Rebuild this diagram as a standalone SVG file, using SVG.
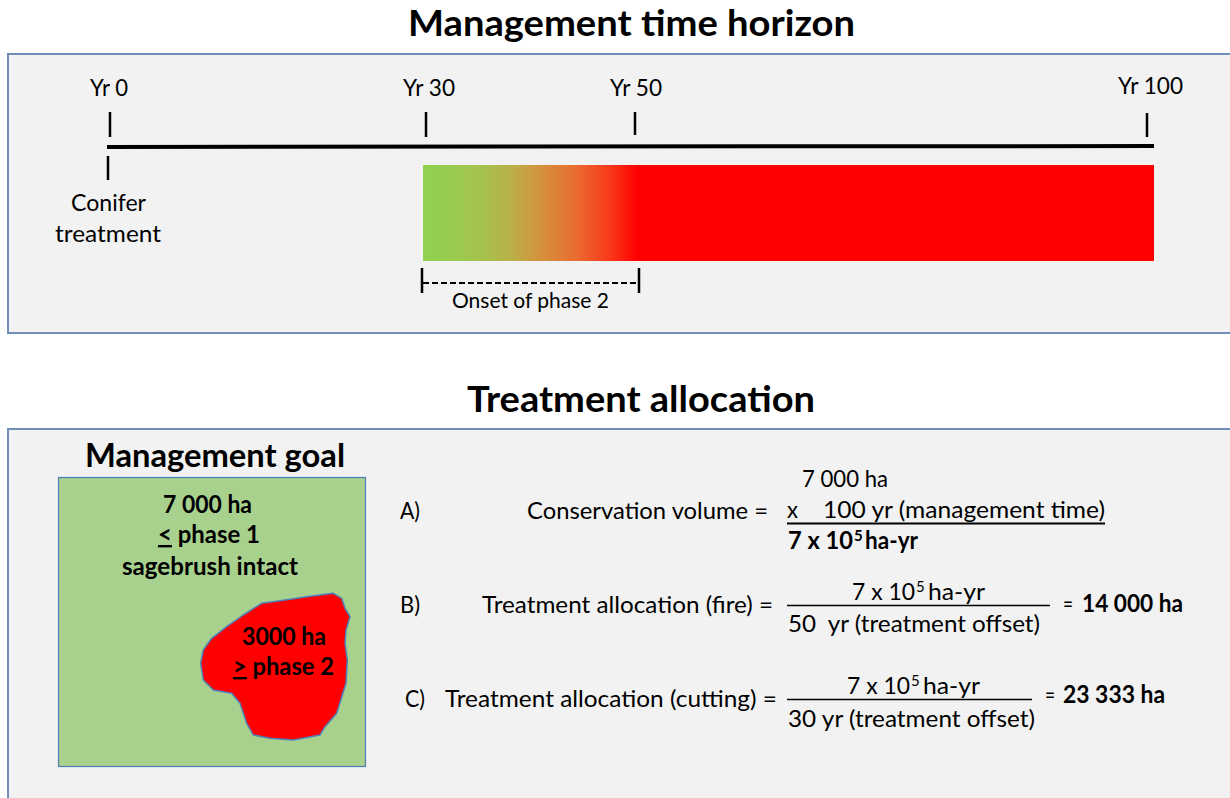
<svg xmlns="http://www.w3.org/2000/svg" width="1230" height="798" viewBox="0 0 1230 798">
<defs>
<style>
text{font-family:Lato,"Open Sans","Noto Sans",sans-serif;fill:#000}
.b{font-weight:bold}
.h1{font-size:37px;font-weight:bold}
.lab{font-size:23.5px}
.eq{font-size:24px}
.sm{font-size:21px}
.sup{font-size:15px}
.panel{fill:#f2f2f2;stroke:#6f8fb8;stroke-width:2}
.tick{stroke:#000;stroke-width:2.5;fill:none}
.fr{stroke:#000;stroke-width:1.6}
</style>
<linearGradient id="grad" gradientUnits="userSpaceOnUse" x1="423" y1="0" x2="1154" y2="0">
<stop offset="0.014" stop-color="#92d050"/>
<stop offset="0.082" stop-color="#a6c24e"/>
<stop offset="0.119" stop-color="#b9b049"/>
<stop offset="0.160" stop-color="#d4933e"/>
<stop offset="0.211" stop-color="#ea6a30"/>
<stop offset="0.260" stop-color="#fa3318"/>
<stop offset="0.293" stop-color="#ff0000"/>
<stop offset="1" stop-color="#ff0000"/>
</linearGradient>
</defs>
<rect width="1230" height="798" fill="#fff"/>

<g id="panel-top">
<text class="h1" x="408" y="36" textLength="447" lengthAdjust="spacingAndGlyphs">Management time horizon</text>
<rect class="panel" x="8" y="54" width="1230" height="279"/>
</g>

<g id="timeline">
<line x1="107" y1="147" x2="1154" y2="146" stroke="#000" stroke-width="4"/>
<line class="tick" x1="110" y1="112" x2="110" y2="137"/>
<line class="tick" x1="426" y1="112" x2="426" y2="137"/>
<line class="tick" x1="635" y1="112" x2="635" y2="135"/>
<line class="tick" x1="1147" y1="113" x2="1147" y2="137"/>
<line class="tick" x1="108" y1="156" x2="108" y2="180"/>
</g>

<g id="yr0"><text class="lab" x="90" y="96" textLength="38" lengthAdjust="spacingAndGlyphs">Yr 0</text></g>
<g id="yr30"><text class="lab" x="403" y="96" textLength="52" lengthAdjust="spacingAndGlyphs">Yr 30</text></g>
<g id="yr50"><text class="lab" x="610" y="96" textLength="52" lengthAdjust="spacingAndGlyphs">Yr 50</text></g>
<g id="yr100"><text class="lab" x="1118" y="94" textLength="65" lengthAdjust="spacingAndGlyphs">Yr 100</text></g>
<g id="conifer">
<text class="lab" x="71" y="211" textLength="75" lengthAdjust="spacingAndGlyphs">Conifer</text>
<text class="lab" x="55" y="242" textLength="106" lengthAdjust="spacingAndGlyphs">treatment</text>
</g>

<g id="phase-bar">
<rect x="423" y="165" width="731" height="96" fill="url(#grad)"/>
</g>

<g id="onset">
<line class="tick" x1="422" y1="268" x2="422" y2="293"/>
<line class="tick" x1="639" y1="268" x2="639" y2="293"/>
<line x1="423" y1="283" x2="639" y2="283" stroke="#000" stroke-width="2" stroke-dasharray="6 3"/>
<text class="sm" x="452" y="308" textLength="157" lengthAdjust="spacingAndGlyphs">Onset of phase 2</text>
</g>

<g id="panel-bottom">
<text class="h1" x="467" y="412" textLength="348" lengthAdjust="spacingAndGlyphs">Treatment allocation</text>
<rect class="panel" x="8" y="429" width="1230" height="380"/>
</g>

<g id="goal">
<text class="b" font-size="32" x="85" y="467" textLength="260" lengthAdjust="spacingAndGlyphs">Management goal</text>
<rect x="58.5" y="477.5" width="307" height="289" fill="#a9d18e" stroke="#4f7fb8" stroke-width="1.2"/>
<text class="b eq" x="163" y="513" textLength="89" lengthAdjust="spacingAndGlyphs">7 000 ha</text>
<text class="b eq" x="158" y="543" textLength="102" lengthAdjust="spacingAndGlyphs"><tspan text-decoration="underline">&lt;</tspan> phase 1</text>
<text class="b eq" x="122" y="575" textLength="176" lengthAdjust="spacingAndGlyphs">sagebrush intact</text>
</g>

<g id="phase2-area">
<path d="M333.3,593.3 L341.7,598.3 L345,608.3 L350,616.7 L346,630 L345,643 L347.3,660 L346,683 L336.7,713.3 L325,726.7 L320,735 L293.3,740 L270,738.3 L253.3,735 L246.7,723.3 L240,703.3 L231.7,693.3 L213.3,690 L203.3,680 L200.7,663.3 L203.3,650 L211.7,638.3 L226.7,626.7 L243.3,615 L261.7,603.3 L273.3,601.7 L306.7,596.7 Z" fill="#ff0000" stroke="#4f7fb8" stroke-width="1.5" stroke-linejoin="round"/>
<text class="b eq" x="242" y="645" textLength="84" lengthAdjust="spacingAndGlyphs">3000 ha</text>
<text class="b eq" x="233" y="675" textLength="101" lengthAdjust="spacingAndGlyphs"><tspan text-decoration="underline">&gt;</tspan> phase 2</text>
</g>

<g id="eq-a">
<text class="eq" x="400" y="519" textLength="20" lengthAdjust="spacingAndGlyphs">A)</text>
<text class="eq" x="527" y="519" textLength="241" lengthAdjust="spacingAndGlyphs">Conservation volume =</text>
<text class="eq" x="802" y="487" textLength="86" lengthAdjust="spacingAndGlyphs">7 000 ha</text>
<text class="eq" x="787" y="518" textLength="11" lengthAdjust="spacingAndGlyphs">x</text>
<text class="eq" x="823" y="518" textLength="282" lengthAdjust="spacingAndGlyphs">100 yr (management time)</text>
<line x1="787" y1="523.5" x2="1105" y2="523.5" stroke="#000" stroke-width="2"/>
<text class="eq b" x="788" y="549" textLength="65" lengthAdjust="spacingAndGlyphs">7 x 10</text>
<text class="sup b" x="854" y="541">5</text>
<text class="eq b" x="865" y="549" textLength="53" lengthAdjust="spacingAndGlyphs">ha-yr</text>
</g>

<g id="eq-b">
<text class="eq" x="400" y="613" textLength="20" lengthAdjust="spacingAndGlyphs">B)</text>
<text class="eq" x="482" y="613" textLength="291" lengthAdjust="spacingAndGlyphs">Treatment allocation (fire) =</text>
<text class="eq" x="852" y="600" textLength="63" lengthAdjust="spacingAndGlyphs">7 x 10</text>
<text class="sup" x="916" y="592">5</text>
<text class="eq" x="928" y="600" textLength="57" lengthAdjust="spacingAndGlyphs">ha-yr</text>
<line class="fr" x1="787" y1="605.5" x2="1050" y2="605.5"/>
<text class="eq" x="788" y="632" textLength="252" lengthAdjust="spacingAndGlyphs" xml:space="preserve">50  yr (treatment offset)</text>
<text class="eq" x="1063" y="612" textLength="10" lengthAdjust="spacingAndGlyphs">=</text>
<text class="eq b" x="1082" y="612" textLength="101" lengthAdjust="spacingAndGlyphs">14 000 ha</text>
</g>

<g id="eq-c">
<text class="eq" x="405" y="707" textLength="20" lengthAdjust="spacingAndGlyphs">C)</text>
<text class="eq" x="445" y="707" textLength="332" lengthAdjust="spacingAndGlyphs">Treatment allocation (cutting) =</text>
<text class="eq" x="847" y="694" textLength="63" lengthAdjust="spacingAndGlyphs">7 x 10</text>
<text class="sup" x="911" y="686">5</text>
<text class="eq" x="923" y="694" textLength="57" lengthAdjust="spacingAndGlyphs">ha-yr</text>
<line class="fr" x1="787" y1="699.5" x2="1032" y2="699.5"/>
<text class="eq" x="788" y="727" textLength="247" lengthAdjust="spacingAndGlyphs">30 yr (treatment offset)</text>
<text class="eq" x="1045" y="703" textLength="10" lengthAdjust="spacingAndGlyphs">=</text>
<text class="eq b" x="1063" y="703" textLength="102" lengthAdjust="spacingAndGlyphs">23 333 ha</text>
</g>
</svg>
